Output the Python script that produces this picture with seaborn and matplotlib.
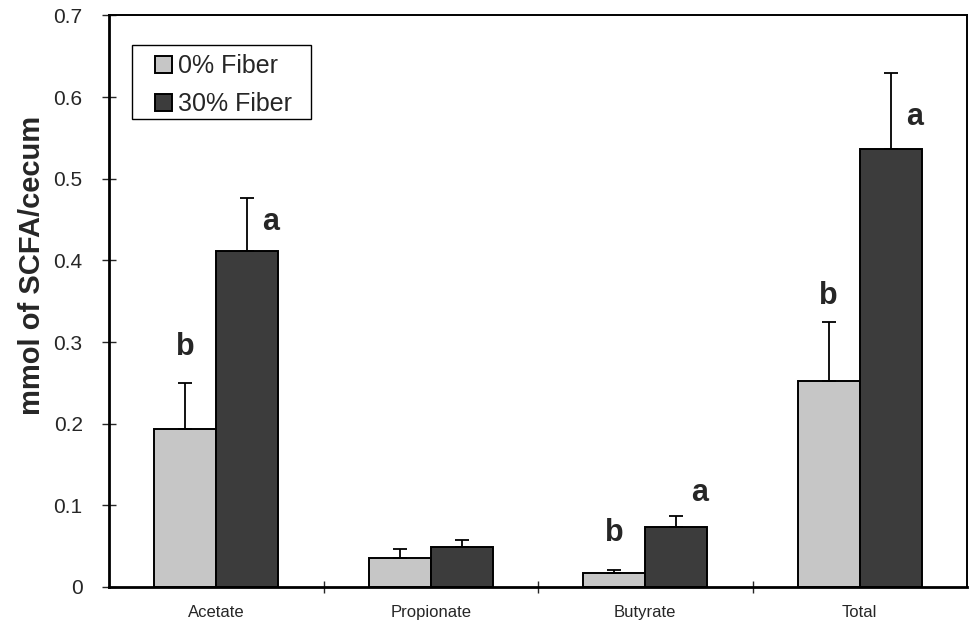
import numpy as np
import pandas as pd
import matplotlib
matplotlib.use("Agg")
import matplotlib.pyplot as plt
from matplotlib.patches import Rectangle
import seaborn as sns

# -------------------------------------------------
# Data
# -------------------------------------------------
acids = ["Acetate", "Propionate", "Butyrate", "Total"]
groups = ["0% Fiber", "30% Fiber"]

mean_0 = [0.194, 0.036, 0.017, 0.252]
mean_30 = [0.411, 0.049, 0.074, 0.537]
err_0 = [0.056, 0.011, 0.004, 0.073]
err_30 = [0.066, 0.008, 0.013, 0.093]

# significance letters and their heights (data units)
letters_0 = ["b", "", "b", "b"]
letters_30 = ["a", "", "a", "a"]
letter_y_0 = [0.294, 0.0, 0.066, 0.357]
letter_y_30 = [0.447, 0.0, 0.115, 0.576]

df = pd.DataFrame({
    "acid": acids * 2,
    "group": [groups[0]] * 4 + [groups[1]] * 4,
    "value": mean_0 + mean_30,
})

# -------------------------------------------------
# Style
# -------------------------------------------------
sns.set_theme(style="ticks")
plt.rcParams["font.family"] = ["Liberation Sans", "DejaVu Sans"]

fig = plt.figure(figsize=(9.76, 6.3), dpi=100)
ax = fig.add_axes([0.1117, 0.0683, 0.8791, 0.9071])

palette = {groups[0]: "#c6c6c6", groups[1]: "#3c3c3c"}

sns.barplot(
    data=df,
    x="acid",
    y="value",
    hue="group",
    order=acids,
    hue_order=groups,
    palette=palette,
    width=0.58,
    edgecolor="black",
    linewidth=1.4,
    saturation=1,
    errorbar=None,
    ax=ax,
)

# upper-only error bars + significance letters
series = zip(ax.containers, [err_0, err_30], [letters_0, letters_30],
             [letter_y_0, letter_y_30], [0.0, 0.11])
for cont, errs, letters, ly, dx in series:
    for bar, e, let, y in zip(cont, errs, letters, ly):
        xc = bar.get_x() + bar.get_width() / 2
        h = bar.get_height()
        ax.errorbar(xc, h, yerr=[[0], [e]], fmt="none", ecolor="black",
                    elinewidth=1.3, capsize=5, capthick=1.3)
        if let:
            ax.text(xc + dx, y, let, ha="center", va="center",
                    fontsize=22, fontweight="bold")

ax.set_xlim(-0.5, 3.5)
ax.set_ylim(0, 0.7)
ax.set_yticks(np.arange(0, 0.71, 0.1))
ax.set_yticklabels(["0", "0.1", "0.2", "0.3", "0.4", "0.5", "0.6", "0.7"])
ax.set_xticks(range(4))
ax.set_xticklabels(acids)
ax.set_xticks([0.5, 1.5, 2.5], minor=True)

ax.tick_params(axis="y", direction="inout", length=10, width=1, labelsize=15, pad=14)
ax.tick_params(axis="x", which="major", length=0, labelsize=12, pad=13)
ax.tick_params(axis="x", which="minor", direction="inout", length=9, width=1)

for side in ["left", "bottom"]:
    ax.spines[side].set_linewidth(2.0)
for side in ["top", "right"]:
    ax.spines[side].set_visible(True)
    ax.spines[side].set_linewidth(1.4)
for sp in ax.spines.values():
    sp.set_color("black")

ax.set_xlabel("")
ax.set_ylabel("mmol of SCFA/cecum", fontsize=21, fontweight="bold")
ax.yaxis.set_label_coords(-0.074, 0.562)

# legend: frameless, with an Excel-like box drawn around it
leg = ax.legend(
    loc="upper left",
    bbox_to_anchor=(0.054, 0.932),
    borderaxespad=0,
    frameon=False,
    fontsize=18,
    handlelength=0.66,
    handleheight=0.66,
    handletextpad=0.25,
    borderpad=0,
    labelspacing=0.54,
)
leg.set_title(None)
ax.add_patch(Rectangle((0.0268, 0.8196), 0.2086, 0.1296, transform=ax.transAxes,
                       fill=False, edgecolor="black", linewidth=1.0, zorder=5))

fig.savefig("out.png", dpi=100)
